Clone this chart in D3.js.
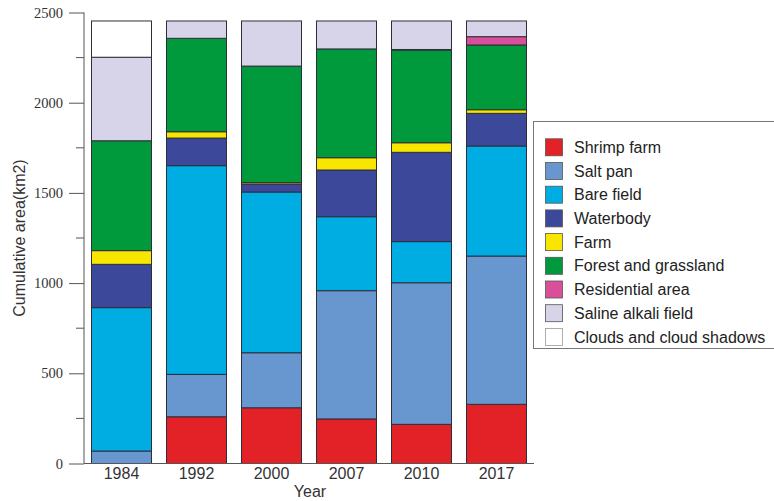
<!DOCTYPE html>
<html>
<head>
<meta charset="utf-8">
<script src="https://cdn.jsdelivr.net/npm/d3@7"></script>
<style>
  html, body { margin: 0; padding: 0; background: #fff; }
  svg { display: block; }
</style>
</head>
<body>
<svg id="chart" width="774" height="501"></svg>
<script>
// Land-use classes, bottom to top of each stack
const years = ["1984", "1992", "2000", "2007", "2010", "2017"];
const classes = ["Shrimp farm", "Salt pan", "Bare field", "Waterbody", "Farm",
  "Forest and grassland", "Residential area", "Saline alkali field", "Clouds and cloud shadows"];
const classColors = ["#e32227", "#6896cf", "#00ade3", "#3c4899", "#f8e500",
  "#009a3d", "#d94f99", "#d7d4ea", "#ffffff"];

// Area (km2) of each class per year
const shrimpFarm  = [0,   259, 309, 247, 217, 328];
const saltPan     = [69,  235, 305, 711, 785, 822];
const bareField   = [795, 1157, 891, 410, 228, 610];
const waterbody   = [240, 153, 44,  259, 495, 181];
const farm        = [76,  35,  8,   68,  53,  20];
const forest      = [609, 518, 646, 603, 514, 359];
const residential = [0,   0,   0,   0,   3,   46];
const salineAlkali= [463, 96,  250, 155, 158, 87];
const clouds      = [201, 0,   0,   0,   0,   0];

const yTicks = [0, 500, 1000, 1500, 2000, 2500];

const seriesValues = [shrimpFarm, saltPan, bareField, waterbody, farm,
  forest, residential, salineAlkali, clouds];

const rows = years.map((yr, i) => {
  const r = { year: yr };
  classes.forEach((c, k) => { r[c] = seriesValues[k][i]; });
  return r;
});

const svg = d3.select("#chart");
const plotLeft = 84, plotRight = 534, plotTop = 12.5, plotBottom = 463.5;

const x = d3.scaleBand().domain(years).range([plotLeft, plotRight])
  .paddingInner(0.2).paddingOuter(0.1);
const y = d3.scaleLinear().domain([0, 2500]).range([plotBottom, plotTop]);
const color = d3.scaleOrdinal().domain(classes).range(classColors);

const stacked = d3.stack().keys(classes)(rows);

// Stacked bars
svg.append("g").selectAll("g")
  .data(stacked).join("g")
  .attr("fill", d => color(d.key))
  .selectAll("rect")
  .data(d => d.filter(p => p[1] - p[0] > 0))
  .join("rect")
  .attr("x", d => x(d.data.year))
  .attr("width", x.bandwidth())
  .attr("y", d => y(d[1]))
  .attr("height", d => y(d[0]) - y(d[1]))
  .attr("stroke", "#2e2e3a")
  .attr("stroke-width", 1);

// Y axis: major ticks with serif labels, minor ticks in between
const yAxis = svg.append("g")
  .attr("transform", `translate(${plotLeft},0)`)
  .call(d3.axisLeft(y).tickValues(yTicks).tickSize(15).tickPadding(6)
    .tickFormat(d3.format("d")));
yAxis.select(".domain").attr("stroke", "#555").attr("d", `M0,${plotTop}V${plotBottom}`);
yAxis.selectAll(".tick line").attr("stroke", "#555");
yAxis.selectAll(".tick text")
  .attr("font-family", "'Liberation Serif', 'Times New Roman', serif")
  .attr("font-size", 14.5).attr("fill", "#333");

const minor = d3.range(250, 2500, 500);
svg.append("g").selectAll("line").data(minor).join("line")
  .attr("x1", plotLeft - 8).attr("x2", plotLeft)
  .attr("y1", d => y(d)).attr("y2", d => y(d))
  .attr("stroke", "#555");

// X axis
const xAxis = svg.append("g")
  .attr("transform", `translate(0,${plotBottom})`)
  .call(d3.axisBottom(x).tickSize(0).tickPadding(4));
xAxis.select(".domain").attr("stroke", "#555").attr("d", `M${plotLeft},0H${plotRight}`);
xAxis.selectAll(".tick text")
  .attr("font-family", "'Liberation Sans', Arial, sans-serif")
  .attr("font-size", 16).attr("fill", "#333");

// Axis titles
svg.append("text")
  .attr("x", 310).attr("y", 497)
  .attr("text-anchor", "middle")
  .attr("font-family", "'Liberation Sans', Arial, sans-serif")
  .attr("font-size", 16).attr("fill", "#333")
  .text("Year");

svg.append("text")
  .attr("transform", "translate(25,238) rotate(-90)")
  .attr("text-anchor", "middle")
  .attr("font-family", "'Liberation Sans', Arial, sans-serif")
  .attr("font-size", 16).attr("fill", "#333")
  .text("Cumulative area(km2)");

// Legend
const legend = svg.append("g");
legend.append("rect")
  .attr("x", 533.5).attr("y", 121.5).attr("width", 250).attr("height", 227)
  .attr("fill", "#fff").attr("stroke", "#777");

const item = legend.selectAll("g.item").data(classes).join("g")
  .attr("class", "item")
  .attr("transform", (d, i) => `translate(545,${147.3 + i * 23.7})`);
item.append("rect")
  .attr("x", 0.5).attr("y", -8.5).attr("width", 17).attr("height", 17)
  .attr("fill", d => color(d))
  .attr("stroke", d => d === "Clouds and cloud shadows" ? "#999" : "#555")
  .attr("stroke-width", 0.8);
item.append("text")
  .attr("x", 29).attr("y", 0).attr("dy", "0.35em")
  .attr("font-family", "'Liberation Sans', Arial, sans-serif")
  .attr("font-size", 16).attr("fill", "#222")
  .text(d => d);
</script>
</body>
</html>
